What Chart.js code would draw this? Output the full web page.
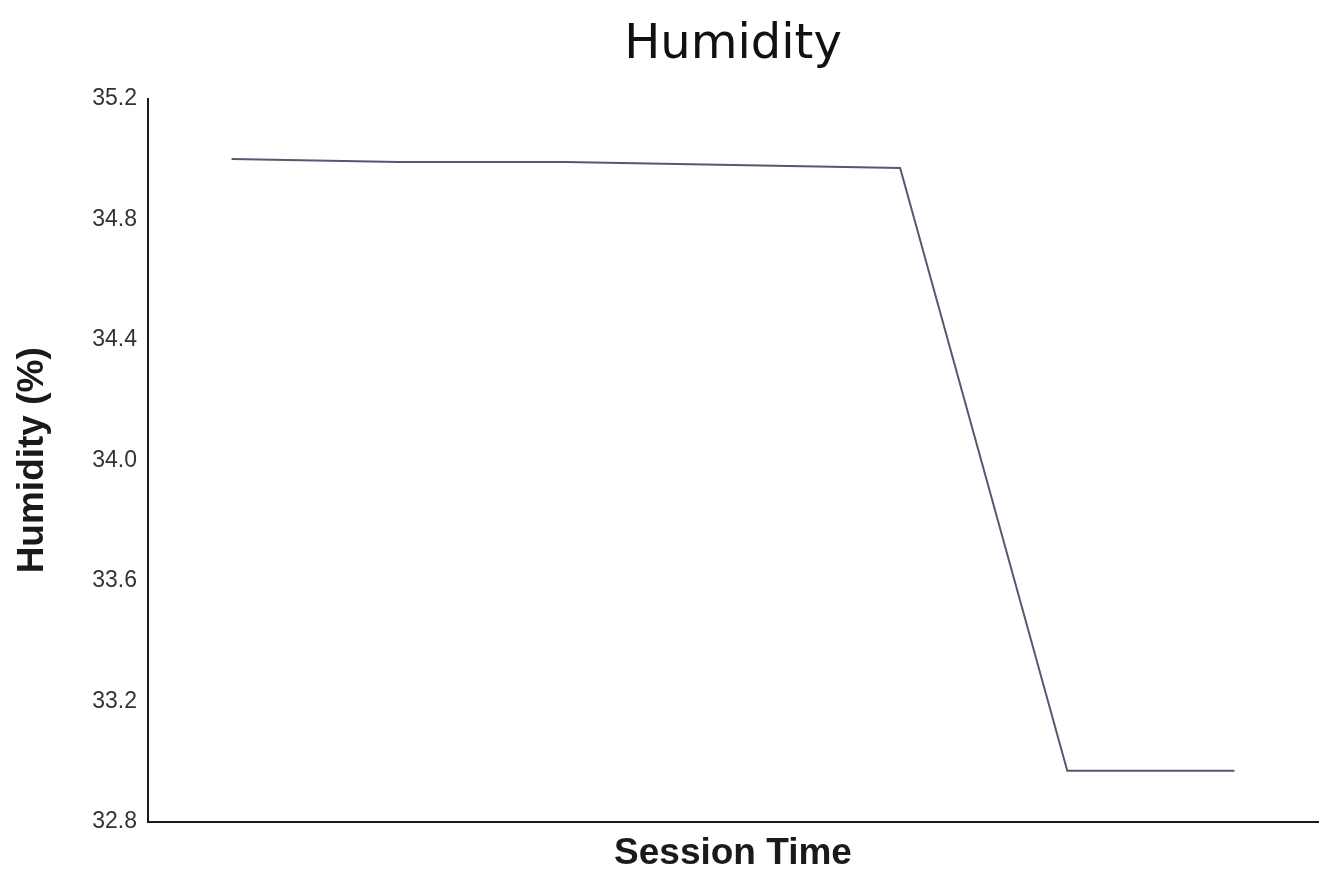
<!DOCTYPE html>
<html>
<head>
<meta charset="utf-8">
<script src="https://cdn.jsdelivr.net/npm/chart.js@4/dist/chart.umd.min.js"></script>
<style>
  html, body { margin: 0; padding: 0; background: #ffffff; }
  #wrap { width: 1325px; height: 881px; }
</style>
</head>
<body>
<div id="wrap"><canvas id="c" width="1325" height="881"></canvas></div>
<script>
const categories = ['1', '2', '3', '4', '5', '6', '7'];
const humidity = [35.0, 34.99, 34.99, 34.98, 34.97, 32.97, 32.97];
const yTickValues = [32.8, 33.2, 33.6, 34.0, 34.4, 34.8, 35.2];
const chartTitle = 'Humidity';
const xTitle = 'Session Time';
const yTitle = 'Humidity (%)';

new Chart(document.getElementById('c'), {
  type: 'line',
  data: {
    labels: categories,
    datasets: [{
      data: humidity,
      borderColor: '#525a72',
      borderWidth: 2,
      pointRadius: 0,
      tension: 0,
      fill: false
    }]
  },
  options: {
    responsive: false,
    animation: false,
    layout: { padding: { left: 0, right: 7, top: 0, bottom: 0 } },
    plugins: {
      legend: { display: false },
      tooltip: { enabled: false },
      title: {
        display: true,
        fullSize: false,
        text: chartTitle,
        color: '#111',
        font: { family: 'DejaVu Sans', size: 48, weight: 'normal' },
        padding: { top: 17, bottom: 24 }
      }
    },
    scales: {
      x: {
        type: 'category',
        offset: true,
        grid: { display: false, drawTicks: false },
        border: { display: true, color: '#1a1a1a', width: 2 },
        ticks: { display: false },
        title: {
          display: true,
          text: xTitle,
          color: '#1a1a1a',
          font: { family: 'Liberation Sans', size: 37, weight: 'bold' },
          padding: { top: 0, bottom: 5 }
        },
        afterFit: (s) => { s.height = 59; }
      },
      y: {
        min: 32.8,
        max: 35.2,
        afterBuildTicks: (s) => { s.ticks = yTickValues.map(v => ({ value: v })); },
        grid: { display: false, drawTicks: false },
        border: { display: true, color: '#1a1a1a', width: 2 },
        ticks: {
          color: '#333',
          font: { family: 'Liberation Sans', size: 23 },
          padding: 11,
          callback: (v) => Number(v).toFixed(1)
        },
        title: {
          display: true,
          text: yTitle,
          color: '#1a1a1a',
          font: { family: 'Liberation Sans', size: 37, weight: 'bold' },
          padding: { top: 11, bottom: 0 }
        },
        afterFit: (s) => { s.width = 148; }
      }
    }
  }
});
</script>
</body>
</html>
